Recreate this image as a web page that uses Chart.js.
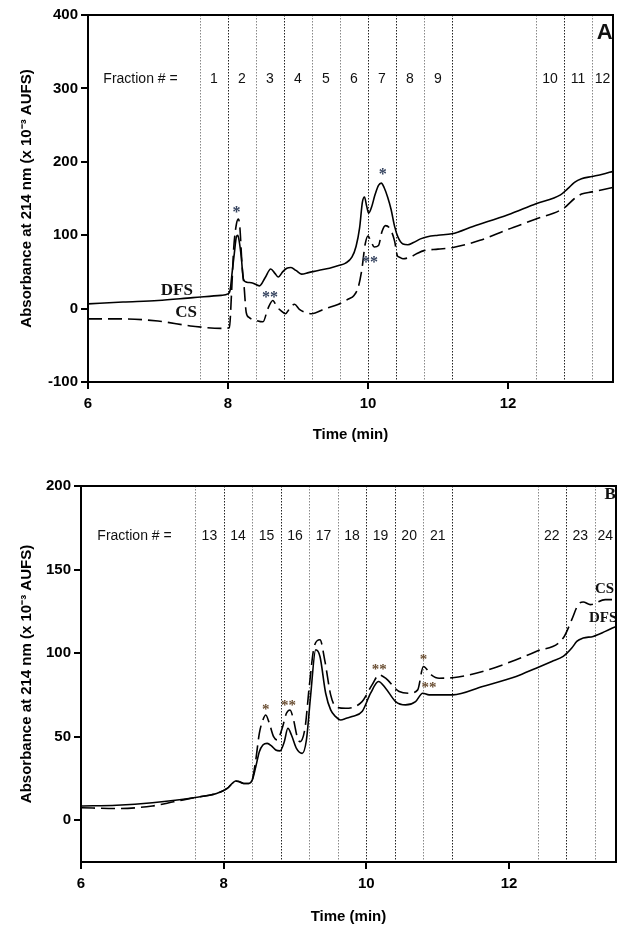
<!DOCTYPE html>
<html>
<head>
<meta charset="utf-8">
<script src="https://cdn.jsdelivr.net/npm/chart.js@4"></script>
<style>
  html, body { margin: 0; padding: 0; background: #fff; }
  #wrap { position: relative; width: 624px; height: 933px; }
  canvas { position: absolute; left: 0; }
  #chartA { top: 0; }
  #chartB { top: 465px; }
</style>
</head>
<body>
<div id="wrap">
  <canvas id="chartA" width="624" height="460"></canvas>
  <canvas id="chartB" width="624" height="468"></canvas>
</div>
<script>
// ---- data ----
// panel A
const timeA_DFS = [6.0, 6.5, 7.0, 7.5, 7.9, 8.0, 8.03, 8.06, 8.09, 8.12, 8.14, 8.16, 8.19, 8.22, 8.27, 8.35, 8.45, 8.53, 8.61, 8.67, 8.72, 8.78, 8.84, 8.90, 8.97, 9.05, 9.15, 9.29, 9.45, 9.58, 9.68, 9.77, 9.83, 9.88, 9.92, 9.95, 9.98, 10.01, 10.05, 10.10, 10.15, 10.19, 10.23, 10.28, 10.33, 10.38, 10.43, 10.50, 10.57, 10.65, 10.75, 10.85, 11.0, 11.2, 11.5, 12.0, 12.4, 12.75, 12.85, 12.95, 13.05, 13.2, 13.35, 13.5];
const absA_DFS = [6.5, 9, 11, 15, 18, 20, 25, 50, 75, 98, 100, 92, 70, 40, 36, 35, 31, 42, 54, 48, 43, 50, 55, 56, 52, 47, 49, 52, 55, 58.6, 62, 70, 85, 110, 145, 152, 140, 130, 138, 155, 168, 171, 165, 152, 135, 112, 97, 88, 87, 90, 95, 98, 100, 102, 112, 128, 143, 155, 163, 172, 177, 180, 183, 187];
const timeA_CS = [6.0, 6.5, 7.0, 7.5, 7.9, 8.02, 8.05, 8.08, 8.12, 8.15, 8.17, 8.20, 8.23, 8.26, 8.30, 8.40, 8.50, 8.57, 8.64, 8.70, 8.76, 8.82, 8.88, 8.95, 9.02, 9.10, 9.19, 9.39, 9.58, 9.72, 9.80, 9.86, 9.91, 9.96, 10.00, 10.04, 10.09, 10.15, 10.20, 10.25, 10.32, 10.38, 10.42, 10.45, 10.50, 10.60, 10.70, 10.80, 11.0, 11.2, 11.6, 12.0, 12.4, 12.8, 12.95, 13.05, 13.2, 13.35, 13.5];
const absA_CS = [-14, -14, -17, -24, -27, -26, 20, 80, 115, 122, 110, 60, 30, -5, -12, -16, -18, 0, 11, 2, -3, -7, 0, 6, -1, -5, -7, 0, 6, 13, 18, 29, 52, 88, 99, 92, 84, 86, 105, 113, 108, 92, 72, 70, 68, 70, 75, 79, 81, 83, 93, 108, 122, 137, 150, 156, 159, 162, 165];

// panel B
const timeB_DFS = [6.0, 6.5, 7.0, 7.6, 7.9, 8.05, 8.12, 8.17, 8.22, 8.28, 8.35, 8.40, 8.45, 8.50, 8.55, 8.61, 8.67, 8.73, 8.79, 8.85, 8.90, 8.95, 9.02, 9.10, 9.16, 9.22, 9.29, 9.35, 9.43, 9.50, 9.57, 9.64, 9.72, 9.80, 9.94, 10.06, 10.17, 10.27, 10.41, 10.55, 10.69, 10.79, 10.88, 11.0, 11.21, 11.63, 12.10, 12.38, 12.60, 12.76, 12.88, 12.95, 13.04, 13.18, 13.35, 13.5];
const absB_DFS = [8.5, 9, 10.5, 13.6, 16, 19, 22, 23.5, 23, 22, 22, 24, 32, 41, 45, 46, 44.5, 42, 41.5, 47, 55, 51, 43, 40, 48, 75, 102, 98, 76, 66, 62, 60, 61, 62, 65, 76, 83, 79, 71, 69, 71, 76, 75, 75, 75, 80, 86, 91, 95, 98, 103, 107, 109, 110, 113, 116];
const timeB_CS = [6.0, 6.5, 7.0, 7.3, 7.6, 7.9, 8.05, 8.12, 8.17, 8.22, 8.28, 8.35, 8.40, 8.45, 8.50, 8.55, 8.59, 8.64, 8.70, 8.75, 8.82, 8.88, 8.93, 8.98, 9.03, 9.07, 9.14, 9.20, 9.27, 9.35, 9.42, 9.50, 9.57, 9.71, 9.94, 10.08, 10.18, 10.27, 10.46, 10.60, 10.72, 10.80, 10.91, 11.02, 11.21, 11.63, 12.10, 12.38, 12.76, 12.88, 12.97, 13.04, 13.14, 13.35, 13.5];
const absB_CS = [7.5, 7, 8.5, 11, 13.6, 16, 19, 22, 23.5, 23, 22, 22, 24, 36, 52, 60, 63, 58, 50, 48, 55, 64, 66, 60, 50, 47, 55, 80, 104, 108, 95, 75, 68, 67, 71, 81, 87, 85, 77, 76, 78, 92, 87, 85, 85.3, 89, 96, 101, 109, 120, 129, 130.6, 129, 132, 132];

// fraction boundaries (min) and names
const fractionEdges = [7.6, 8.0, 8.4, 8.8, 9.2, 9.6, 10.0, 10.4, 10.8, 11.2, 12.4, 12.8, 13.2];
const fractionsA = ['1', '2', '3', '4', '5', '6', '7', '8', '9', '10', '11', '12'];
const fractionsB = ['13', '14', '15', '16', '17', '18', '19', '20', '21', '22', '23', '24'];

const xTicks = [6, 8, 10, 12];
const yTicksA = [-100, 0, 100, 200, 300, 400];
const yTicksB = [0, 50, 100, 150, 200];

// ---- helpers ----
const pts = (ts, vs) => ts.map((t, i) => ({ x: t, y: vs[i] }));

// intervals that carry a fraction name (skip the unnamed 11.2-12.4 gap)
function fractionSpans(xMax) {
  const spans = [];
  for (let i = 0; i < fractionEdges.length; i++) {
    const a = fractionEdges[i];
    const b = i + 1 < fractionEdges.length ? fractionEdges[i + 1] : xMax;
    if (a === 11.2) continue;
    spans.push((a + b) / 2);
  }
  return spans;
}

const darkEdges = [8.0, 8.8, 10.0, 10.4, 11.2, 12.8];

const overlay = {
  id: 'overlay',
  beforeDatasetsDraw(chart, args, opts) {
    const { ctx, chartArea, scales: { x } } = chart;
    ctx.save();
    ctx.lineWidth = 1;
    ctx.setLineDash([1.5, 1.5]);
    fractionEdges.forEach(t => {
      const px = Math.round(x.getPixelForValue(t)) + 0.5;
      ctx.strokeStyle = darkEdges.includes(t) ? '#222' : '#888';
      ctx.beginPath();
      ctx.moveTo(px, chartArea.top);
      ctx.lineTo(px, chartArea.bottom);
      ctx.stroke();
    });
    ctx.restore();
  },
  afterDatasetsDraw(chart, args, opts) {
    const { ctx, chartArea, scales: { x, y } } = chart;
    ctx.save();
    // fraction names
    ctx.fillStyle = '#111';
    ctx.font = '14px "Liberation Sans", Arial, sans-serif';
    ctx.textAlign = 'center';
    ctx.textBaseline = 'middle';
    const ly = y.getPixelForValue(opts.labelAt);
    fractionSpans(x.max).forEach((c, i) => {
      ctx.fillText(opts.names[i], x.getPixelForValue(c), ly);
    });
    ctx.fillText('Fraction # =', x.getPixelForValue(opts.headerAt), ly);

    // notes: asterisks, trace names, panel letter
    opts.notes.forEach(n => {
      ctx.font = n.font;
      ctx.fillStyle = n.color || '#111';
      ctx.textAlign = n.align || 'center';
      ctx.fillText(n.text, x.getPixelForValue(n.t), y.getPixelForValue(n.v));
    });

    // frame
    ctx.strokeStyle = '#000';
    ctx.lineWidth = 2;
    ctx.setLineDash([]);
    ctx.strokeRect(chartArea.left, chartArea.top, chartArea.right - chartArea.left, chartArea.bottom - chartArea.top);
    ctx.restore();
  }
};

function makeChart(id, cfg) {
  const tickFont = { family: '"Liberation Sans", Arial, sans-serif', size: 15, weight: 'bold' };
  const titleFont = { family: '"Liberation Sans", Arial, sans-serif', size: 15, weight: 'bold' };
  return new Chart(document.getElementById(id), {
    type: 'line',
    data: {
      datasets: [
        { label: 'DFS', data: cfg.dfs, borderColor: '#000', borderWidth: 1.6, pointRadius: 0, cubicInterpolationMode: 'monotone', fill: false },
        { label: 'CS', data: cfg.cs, borderColor: '#000', borderWidth: 1.6, borderDash: [14, 6], pointRadius: 0, cubicInterpolationMode: 'monotone', fill: false }
      ]
    },
    options: {
      responsive: false,
      animation: false,
      events: [],
      layout: { padding: cfg.padding },
      plugins: {
        legend: { display: false },
        tooltip: { enabled: false },
        overlay: { names: cfg.names, labelAt: cfg.labelAt, headerAt: 6.75, notes: cfg.notes }
      },
      scales: {
        x: {
          type: 'linear',
          min: 6, max: 13.5,
          afterBuildTicks: s => { s.ticks = xTicks.map(v => ({ value: v })); },
          afterFit: s => { s.height = cfg.xHeight; },
          grid: { drawOnChartArea: false, drawTicks: true, tickLength: 7, color: '#000', lineWidth: 2 },
          border: { color: '#000', width: 2 },
          ticks: { color: '#000', font: tickFont, padding: 6, maxRotation: 0 },
          title: { display: true, text: 'Time (min)', color: '#000', font: titleFont, padding: { top: 4, bottom: 4 } }
        },
        y: {
          min: cfg.yMin, max: cfg.yMax,
          afterBuildTicks: s => { s.ticks = cfg.yTicks.map(v => ({ value: v })); },
          afterFit: s => { s.width = cfg.yWidth; },
          grid: { drawOnChartArea: false, drawTicks: true, tickLength: 7, color: '#000', lineWidth: 2 },
          border: { color: '#000', width: 2 },
          ticks: { color: '#000', font: tickFont, padding: 3 },
          title: { display: true, text: 'Absorbance at 214 nm (x 10\u207B\u00B3 AUFS)', color: '#000', font: titleFont, padding: { top: 18, bottom: 0 } }
        }
      }
    },
    plugins: [overlay]
  });
}

const starA = '#34425e';
const starB = '#6b4f33';
const serifBold = 'bold 17px "Liberation Serif", "Times New Roman", serif';

makeChart('chartA', {
  dfs: pts(timeA_DFS, absA_DFS),
  cs: pts(timeA_CS, absA_CS),
  names: fractionsA,
  labelAt: 312,
  yMin: -100, yMax: 400, yTicks: yTicksA,
  yWidth: 88, xHeight: 66,
  padding: { top: 15, right: 11, bottom: 12, left: 0 },
  notes: [
    { text: 'DFS', t: 7.27, v: 25, font: serifBold },
    { text: 'CS', t: 7.40, v: -6, font: serifBold },
    { text: '*', t: 8.12, v: 130, font: 'bold 16px "Liberation Serif", serif', color: starA },
    { text: '**', t: 8.60, v: 14, font: 'bold 16px "Liberation Serif", serif', color: starA },
    { text: '**', t: 10.03, v: 62, font: 'bold 16px "Liberation Serif", serif', color: starA },
    { text: '*', t: 10.21, v: 182, font: 'bold 16px "Liberation Serif", serif', color: starA },
    { text: 'A', t: 13.38, v: 375, font: 'bold 22px "Liberation Sans", Arial, sans-serif' }
  ]
});

makeChart('chartB', {
  dfs: pts(timeB_DFS, absB_DFS),
  cs: pts(timeB_CS, absB_CS),
  names: fractionsB,
  labelAt: 170,
  yMin: -25, yMax: 200, yTicks: yTicksB,
  yWidth: 81, xHeight: 68,
  padding: { top: 21, right: 8, bottom: 3, left: 0 },
  notes: [
    { text: '*', t: 8.59, v: 66, font: 'bold 15px "Liberation Serif", serif', color: starB },
    { text: '**', t: 8.91, v: 68, font: 'bold 15px "Liberation Serif", serif', color: starB },
    { text: '**', t: 10.18, v: 90, font: 'bold 15px "Liberation Serif", serif', color: starB },
    { text: '*', t: 10.80, v: 96, font: 'bold 15px "Liberation Serif", serif', color: starB },
    { text: '**', t: 10.88, v: 79, font: 'bold 15px "Liberation Serif", serif', color: starB },
    { text: 'CS', t: 13.34, v: 138, font: 'bold 15px "Liberation Serif", serif' },
    { text: 'DFS', t: 13.32, v: 121, font: 'bold 15px "Liberation Serif", serif' },
    { text: 'B', t: 13.42, v: 195, font: 'bold 17px "Liberation Serif", serif' }
  ]
});
</script>
</body>
</html>
